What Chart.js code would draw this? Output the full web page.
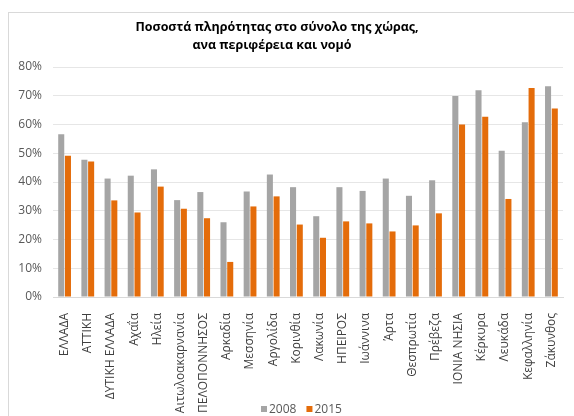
<!DOCTYPE html>
<html>
<head>
<meta charset="utf-8">
<script src="https://cdn.jsdelivr.net/npm/chart.js@4"></script>
<style>
    html, body { margin: 0; padding: 0; background: #ffffff; }
    #frame {
        position: absolute;
        left: 8px;
        top: 12px;
        width: 600px;
        height: 440px;
        border: 1px solid #d9d9d9;
        box-sizing: border-box;
    }
    #wrap { position: absolute; left: 0; top: 0; width: 574px; height: 416px; }
</style>
</head>
<body>
<div id="frame"></div>
<div id="wrap"><canvas id="chart" width="574" height="416"></canvas></div>
<script>
// Categories (regions and prefectures)
const categories = [
    'ΕΛΛΑΔΑ', 'ΑΤΤΙΚΗ', 'ΔΥΤΙΚΗ ΕΛΛΑΔΑ', 'Αχαΐα', 'Ηλεία', 'Αιτωλοακαρνανία',
    'ΠΕΛΟΠΟΝΝΗΣΟΣ', 'Αρκαδία', 'Μεσσηνία', 'Αργολίδα', 'Κορινθία', 'Λακωνία',
    'ΗΠΕΙΡΟΣ', 'Ιωάννινα', 'Άρτα', 'Θεσπρωτία', 'Πρέβεζα', 'ΙΟΝΙΑ ΝΗΣΙΑ',
    'Κέρκυρα', 'Λευκάδα', 'Κεφαλληνία', 'Ζάκυνθος'
];

// Occupancy rates (%)
const values2008 = [
    56.6, 47.7, 41.2, 42.2, 44.4, 33.7, 36.5, 26.0, 36.7, 42.6, 38.2,
    28.1, 38.2, 36.9, 41.2, 35.2, 40.6, 69.9, 71.9, 50.9, 60.8, 73.3
];
const values2015 = [
    49.1, 47.1, 33.6, 29.4, 38.4, 30.7, 27.4, 12.2, 31.5, 35.0, 25.2,
    20.6, 26.3, 25.6, 22.8, 24.9, 29.1, 60.0, 62.7, 34.1, 72.7, 65.6
];

const seriesLabels = ['2008', '2015'];
const yTicks = [0, 10, 20, 30, 40, 50, 60, 70, 80];
const titleLines = ['Ποσοστά πληρότητας στο σύνολο της χώρας,', 'ανα περιφέρεια και νομό'];

const colorGray = '#a5a5a5';
const colorOrange = '#e46c0a';
const fontFamily = "'Open Sans', sans-serif";

// Title and legend drawn by hand so they sit where the original has them
const headerFooter = {
    id: 'headerFooter',
    afterDraw(chart) {
        const c = chart.ctx;
        c.save();
        c.fillStyle = '#000000';
        c.font = 'bold 12.5px ' + fontFamily;
        c.textAlign = 'center';
        c.textBaseline = 'middle';
        c.fillText(titleLines[0], 277, 27);
        c.fillText(titleLines[1], 272, 45);

        // legend
        c.font = '12px ' + fontFamily;
        c.textAlign = 'left';
        let x = 261;
        const y = 409;
        chart.data.datasets.forEach(ds => {
            c.fillStyle = ds.backgroundColor;
            c.fillRect(x, y - 3, 6, 6);
            c.fillStyle = '#595959';
            c.fillText(ds.label, x + 8, y + 1);
            x += 8 + c.measureText(ds.label).width + 10;
        });
        c.restore();
    }
};

const ctx = document.getElementById('chart');

new Chart(ctx, {
    type: 'bar',
    data: {
        labels: categories,
        datasets: [
            {
                label: seriesLabels[0],
                data: values2008,
                backgroundColor: colorGray,
                barPercentage: 0.9,
                categoryPercentage: 0.58
            },
            {
                label: seriesLabels[1],
                data: values2015,
                backgroundColor: colorOrange,
                barPercentage: 0.9,
                categoryPercentage: 0.58
            }
        ]
    },
    plugins: [headerFooter],
    options: {
        responsive: false,
        animation: false,
        layout: {
            padding: { left: 0, right: 8, top: 67, bottom: 0 }
        },
        plugins: {
            title: { display: false },
            legend: { display: false },
            tooltip: { enabled: false }
        },
        scales: {
            x: {
                grid: { display: false },
                border: { color: '#d9d9d9' },
                afterFit: function(axis) {
                    axis.height = 119;
                },
                ticks: {
                    color: '#404040',
                    font: { family: fontFamily, size: 12 },
                    maxRotation: 90,
                    minRotation: 90,
                    autoSkip: false,
                    padding: 8
                }
            },
            y: {
                min: 0,
                max: 80,
                afterBuildTicks: function(axis) {
                    axis.ticks = yTicks.map(v => ({ value: v }));
                },
                afterFit: function(axis) {
                    axis.width = 53;
                },
                grid: { color: '#e6e6e6', drawTicks: false },
                border: { display: false },
                ticks: {
                    color: '#595959',
                    font: { family: fontFamily, size: 12 },
                    padding: 11,
                    callback: v => v + '%'
                }
            }
        }
    }
});
</script>
</body>
</html>
